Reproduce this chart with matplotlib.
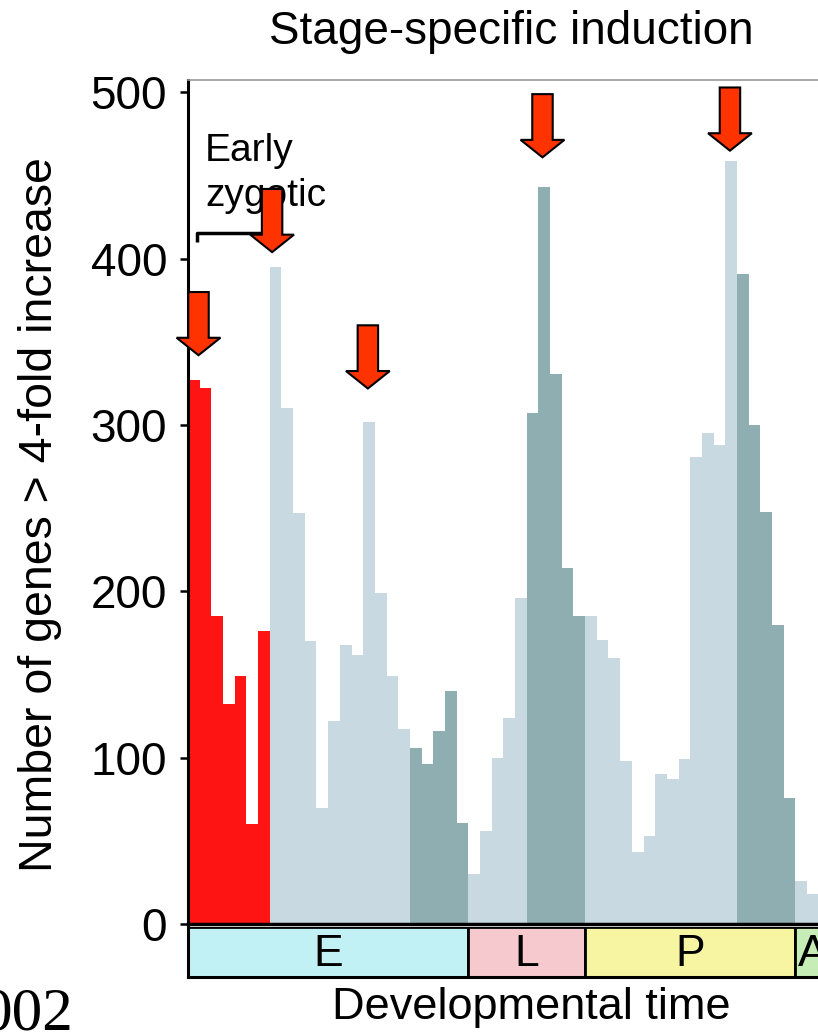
import numpy as np
import matplotlib.pyplot as plt
from matplotlib.patches import Rectangle

plt.rcParams['font.family'] = 'Liberation Sans'

# genes con inducción > 4 veces en cada punto de tiempo
valores = [327, 322, 185, 132, 149, 60, 176,
           395, 310, 247, 170, 70, 122, 168, 162, 302, 199, 149, 117,
           106, 96, 116, 140, 61,
           30, 56, 100, 124, 196,
           307, 443, 331, 214, 185,
           185, 171, 160, 98, 43, 53, 90, 87, 99, 281, 295, 288, 459,
           391, 300, 248, 180, 76,
           26, 18]
# r = cigótico temprano, c = claro, o = oscuro
grupos = list("r" * 7 + "c" * 12 + "o" * 5 + "c" * 5 + "o" * 5 + "c" * 13 + "o" * 5 + "c" * 2)
colores = {'r': '#ff1414', 'c': '#c8d9e1', 'o': '#8faeb1'}

# etapas del desarrollo
etapas = ['E', 'L', 'P', 'A']
inicio = [0, 24, 34, 52]
fin = [24, 34, 52, 55]
colores_etapa = ['#c2f1f5', '#f5c9cd', '#f8f5a2', '#c6edb6']

# flechas: posición x (en barras) y punta (número de genes)
flechas_x = [0.9, 7.2, 15.4, 30.35, 46.4]
flechas_y = [342, 404, 322, 461, 465]

W, H = 818, 1034
fig = plt.figure(figsize=(W / 100, H / 100), dpi=100)

px_barra = 11.68
x_max = 55
ancho = x_max * px_barra / W

ax = fig.add_axes([188 / W, 1 - 924 / H, ancho, 844 / H])
x = np.arange(len(valores))
ax.bar(x, valores, width=1.0, align='edge',
       color=[colores[g] for g in grupos], linewidth=0)
ax.set_xlim(0, x_max)
ax.set_ylim(0, 507.5)
ax.set_xticks([])
ax.set_yticks([0, 100, 200, 300, 400, 500])
ax.tick_params(axis='y', length=6, width=1.8, pad=9, labelsize=33)
ax.spines['right'].set_visible(False)
ax.spines['left'].set_linewidth(2.2)
ax.spines['bottom'].set_linewidth(2.5)
ax.spines['top'].set_color('#9a9a9a')
ax.spines['top'].set_linewidth(1.2)

# flechas rojas
for fx, fy in zip(flechas_x, flechas_y):
    ax.arrow(fx, fy + 38, 0, -38, width=1.75, head_width=3.75, head_length=10.5,
             length_includes_head=True, fc='#ff3300', ec='black', lw=1.5,
             zorder=5, clip_on=False)

# anotación "Early zygotic"
ax.plot([0.77, 0.77, 7], [410, 415.5, 415.5], color='black', lw=2.5,
        solid_capstyle='butt', zorder=3)
ax.text(1.45, 459, 'Early', fontsize=28, va='baseline', zorder=4)
ax.text(1.45, 432, 'zygotic', fontsize=28, va='baseline', zorder=4)

# barra de etapas
ax2 = fig.add_axes([188 / W, 1 - 977 / H, ancho, 50 / H])
for e, a, b, c in zip(etapas, inicio, fin, colores_etapa):
    ax2.add_patch(Rectangle((a, 0), b - a, 1, facecolor=c, edgecolor='black', lw=2))
    ax2.text((a + b) / 2, 0.45, e, fontsize=32, ha='center', va='center')
ax2.set_xlim(0, x_max)
ax2.set_ylim(0, 1)
ax2.set_xticks([])
ax2.set_yticks([])
for s in ax2.spines.values():
    s.set_visible(False)
ax2.spines['left'].set_visible(True)
ax2.spines['left'].set_linewidth(2.2)
ax2.spines['bottom'].set_visible(True)
ax2.spines['bottom'].set_linewidth(2.2)

fig.text(511 / W, 1 - 32 / H, 'Stage-specific induction', ha='center', va='center', fontsize=33)
fig.text(40 / W, 1 - 515 / H, 'Number of genes > 4-fold increase', ha='center', va='center',
         rotation=90, fontsize=33.5)
fig.text(531 / W, 1 - 1008 / H, 'Developmental time', ha='center', va='center', fontsize=32.5)
fig.text(-18 / W, 1 - 1030 / H, '002', family='Liberation Serif', fontsize=44, va='baseline')

fig.savefig('out.png', dpi=100)
